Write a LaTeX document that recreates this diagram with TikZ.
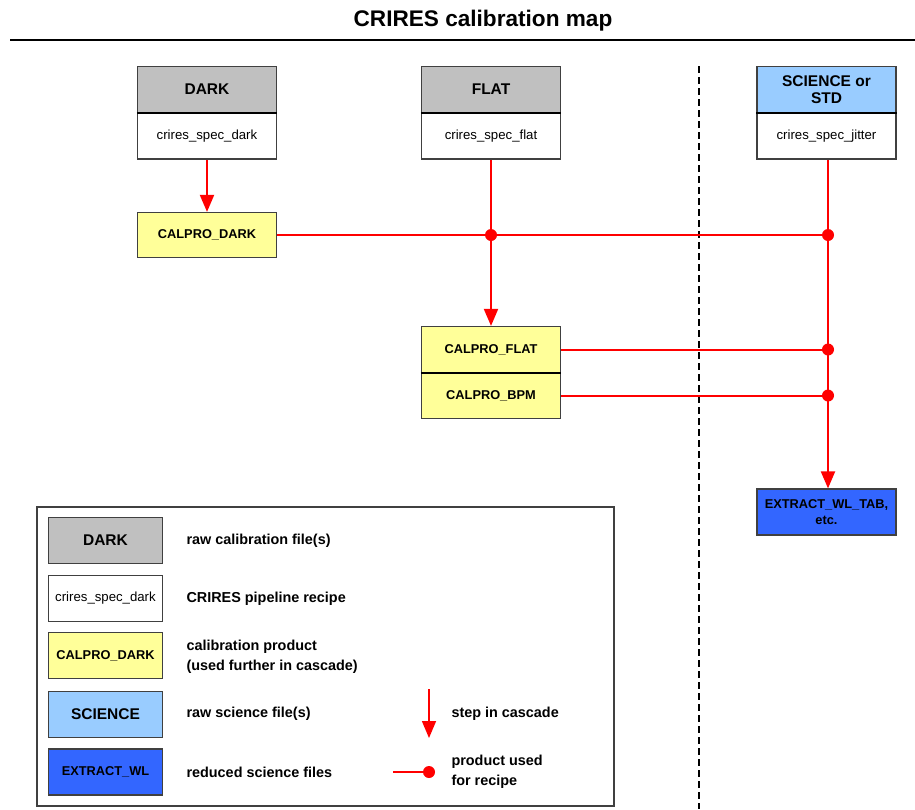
\documentclass[tikz,border=0pt]{standalone}
\usepackage{fontspec}
\setmainfont{Liberation Sans}
\usetikzlibrary{arrows.meta}
\definecolor{rawgray}{HTML}{C0C0C0}
\definecolor{calyellow}{HTML}{FFFF99}
\definecolor{scilight}{HTML}{99CCFF}
\definecolor{redblue}{HTML}{3366FF}
\definecolor{boxborder}{HTML}{404040}
\definecolor{linkred}{HTML}{FF0000}
\begin{document}
\begin{tikzpicture}[x=1pt,y=-1pt,
  box/.style={draw=boxborder, line width=1.2pt, minimum width=139pt, minimum height=46pt, inner sep=0pt, align=center},
  lbox/.style={box, minimum width=114pt},
  hdr/.style={font=\fontsize{15.5}{17}\selectfont\bfseries},
  rec/.style={font=\fontsize{13.2}{14}\selectfont},
  prod/.style={font=\fontsize{12.8}{16.5}\selectfont\bfseries},
  legtext/.style={anchor=west, align=left, font=\fontsize{14.4}{19.5}\selectfont\bfseries},
  flow/.style={draw=linkred, line width=2pt, -{Triangle[width=14pt,length=17pt]}},
  feed/.style={draw=linkred, line width=2pt},
  dot/.style={circle, fill=linkred, inner sep=0pt, minimum size=12pt},
  sep/.style={draw=black, line width=2pt}
]
\useasboundingbox (0,0) rectangle (915,809);

% title
\node[font=\fontsize{22.6}{26}\selectfont\bfseries] (title) at (483,21) {CRIRES calibration map};
\coordinate (tl) at (10,40);
\coordinate (tr) at (915,40);
\draw[line width=2pt] (tl) -- (tr);

% dashed divider
\coordinate (dtop) at (699,66);
\coordinate (dbot) at (699,809);
\draw[line width=1.6pt, dash pattern=on 7pt off 4pt] (dtop) -- (dbot);

% DARK column
\node[box, fill=rawgray, hdr] (darkh) at (207,89.5) {DARK};
\node[box, fill=white, rec] (darkr) at (207,136) {crires\_spec\_dark};
\draw[sep] (darkh.south west) -- (darkh.south east);
\node[box, fill=calyellow, prod, minimum height=45pt] (cdark) at (207,235) {CALPRO\_DARK};

% FLAT column
\node[box, fill=rawgray, hdr] (flath) at (491,89.5) {FLAT};
\node[box, fill=white, rec] (flatr) at (491,136) {crires\_spec\_flat};
\draw[sep] (flath.south west) -- (flath.south east);
\node[box, fill=calyellow, prod] (cflat) at (491,349.5) {CALPRO\_FLAT};
\node[box, fill=calyellow, prod] (cbpm) at (491,395.5) {CALPRO\_BPM};
\draw[sep] (cflat.south west) -- (cflat.south east);

% SCIENCE column
\node[box, fill=scilight, hdr] (scih) at (826.5,89.5) {SCIENCE or\\STD};
\node[box, fill=white, rec] (scir) at (826.5,136) {crires\_spec\_jitter};
\draw[sep] (scih.south west) -- (scih.south east);
\node[box, fill=redblue, prod, minimum height=46pt] (extract) at (826.5,512) {EXTRACT\_WL\_TAB,\\etc.};

% dots
\node[dot] (d1) at (491,235) {};
\node[dot] (d2) at (828,235) {};
\node[dot] (d3) at (828,349.5) {};
\node[dot] (d4) at (828,395.5) {};

% connectors
\draw[flow] (darkr.south) -- (cdark.north);
\draw[flow] (flatr.south) -- (cflat.north);
\draw[flow] (scir.south -| d2) -- (extract.north -| d2);
\draw[feed] (cdark.east) -- (d2.center);
\draw[feed] (cflat.east) -- (d3.center);
\draw[feed] (cbpm.east) -- (d4.center);

% legend frame
\node[draw=boxborder, line width=1.2pt, minimum width=577pt, minimum height=299pt, inner sep=0pt] (legend) at (325.5,656.5) {};

\node[lbox, fill=rawgray, hdr] (lraw) at (105.5,540.5) {DARK};
\node[lbox, fill=white, rec] (lrec) at (105.5,598.5) {crires\_spec\_dark};
\node[lbox, fill=calyellow, prod] (lprod) at (105.5,655.5) {CALPRO\_DARK};
\node[lbox, fill=scilight, hdr] (lsci) at (105.5,714.5) {SCIENCE};
\node[lbox, fill=redblue, prod] (lred) at (105.5,772) {EXTRACT\_WL};

\node[legtext] (traw) at (183,541) {raw calibration file(s)};
\node[legtext] (trec) at (183,599) {CRIRES pipeline recipe};
\node[legtext] (tprod) at (183,657) {calibration product\\(used further in cascade)};
\node[legtext] (tsci) at (183,714) {raw science file(s)};
\node[legtext] (tred) at (183,772) {reduced science files};

\coordinate (astart) at (429,689);
\coordinate (aend) at (429,738);
\draw[flow, line width=1.5pt] (astart) -- (aend);
\node[legtext] (tstep) at (448,714) {step in cascade};

\coordinate (lstart) at (393,772);
\node[dot] (ldot) at (429,772) {};
\draw[draw=linkred, line width=1.2pt] (lstart) -- (ldot.center);
\node[legtext] (tused) at (448,772) {product used\\for recipe};
\end{tikzpicture}
\end{document}
